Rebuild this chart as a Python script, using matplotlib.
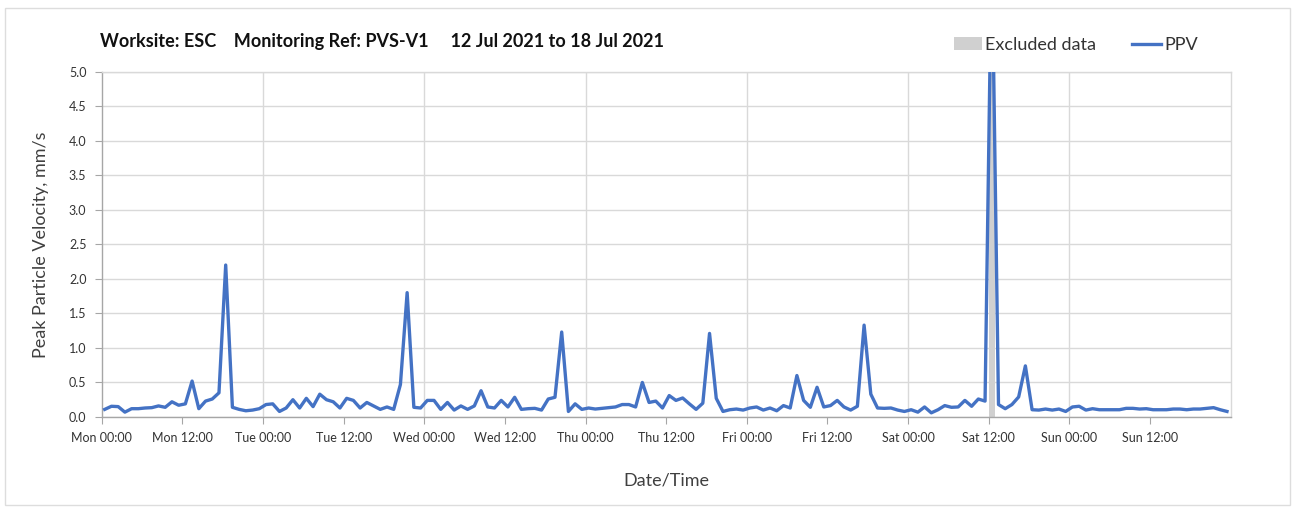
import numpy as np
import pandas as pd
import matplotlib
matplotlib.use("Agg")
import matplotlib.pyplot as plt
import matplotlib.dates as mdates
from matplotlib.patches import Patch, Rectangle
from matplotlib.lines import Line2D

plt.rcParams['font.family'] = ['Lato', 'DejaVu Sans']

# hourly PPV readings, Mon 12 Jul 2021 -> Sun 18 Jul 2021
times = pd.date_range("2021-07-12 00:27", periods=168, freq="h")
ppv = [
    0.11, 0.155, 0.15, 0.07, 0.12, 0.12, 0.13, 0.135, 0.16, 0.14, 0.22, 0.17,
    0.19, 0.52, 0.12, 0.23, 0.26, 0.35, 2.2, 0.14, 0.11, 0.09, 0.10, 0.12,
    0.18, 0.19, 0.08, 0.13, 0.25, 0.13, 0.27, 0.15, 0.33, 0.25, 0.22, 0.13,
    0.27, 0.24, 0.13, 0.21, 0.16, 0.11, 0.145, 0.11, 0.47, 1.8, 0.14, 0.13,
    0.24, 0.24, 0.11, 0.21, 0.10, 0.16, 0.11, 0.16, 0.38, 0.145, 0.13, 0.24,
    0.145, 0.285, 0.11, 0.12, 0.125, 0.10, 0.26, 0.285, 1.23, 0.08, 0.19, 0.11,
    0.13, 0.115, 0.125, 0.135, 0.145, 0.18, 0.18, 0.145, 0.5, 0.21, 0.23, 0.13,
    0.31, 0.24, 0.275, 0.19, 0.11, 0.2, 1.21, 0.27, 0.08, 0.105, 0.115, 0.10,
    0.13, 0.145, 0.10, 0.13, 0.09, 0.165, 0.13, 0.6, 0.24, 0.14, 0.43, 0.145,
    0.165, 0.24, 0.145, 0.10, 0.155, 1.33, 0.33, 0.13, 0.125, 0.13, 0.10, 0.08,
    0.105, 0.07, 0.145, 0.06, 0.105, 0.165, 0.14, 0.145, 0.24, 0.155, 0.26, 0.23,
    6.9, 0.18, 0.12, 0.18, 0.29, 0.74, 0.105, 0.10, 0.115, 0.10, 0.115, 0.08,
    0.145, 0.155, 0.10, 0.12, 0.105, 0.105, 0.105, 0.105, 0.125, 0.125, 0.115, 0.12,
    0.105, 0.105, 0.105, 0.115, 0.115, 0.105, 0.115, 0.115, 0.125, 0.135, 0.105, 0.08,
]
excluded_start = ["2021-07-17 12:00"]
excluded_end = ["2021-07-17 13:00"]

t0 = pd.Timestamp("2021-07-12 00:00")
t1 = pd.Timestamp("2021-07-19 00:00")

blue = "#4472C4"
grey_band = "#D0D0D0"
axis_col = "#A6A6A6"
grid_col = "#D9D9D9"

fig = plt.figure(figsize=(12.99, 5.11), dpi=100)
ax = fig.add_axes([0.0783, 0.184, 0.8691, 0.6757])

for s, e in zip(excluded_start, excluded_end):
    ax.axvspan(pd.Timestamp(s), pd.Timestamp(e), color=grey_band, lw=0, zorder=1)
ax.plot(times, ppv, color=blue, lw=2.4, zorder=3, solid_joinstyle="round")

ax.set_xlim(t0, t1)
ax.set_ylim(0, 5)
ax.set_yticks(np.arange(0, 5.01, 0.5))
ax.yaxis.set_major_formatter(plt.FormatStrFormatter("%.1f"))

# labelled ticks every 12 h, gridlines only at midnight
ax.xaxis.set_major_locator(mdates.HourLocator(byhour=[0, 12]))
ax.xaxis.set_major_formatter(mdates.DateFormatter("%a %H:%M"))
for d in pd.date_range(t0, periods=7, freq="D")[1:]:
    ax.axvline(d, color=grid_col, lw=1, zorder=0)
ax.yaxis.grid(True, color=grid_col, lw=1, zorder=0)
ax.set_axisbelow(True)

for sp in ax.spines.values():
    sp.set_color(axis_col)
    sp.set_linewidth(1)
ax.spines['top'].set_color(grid_col)
ax.spines['right'].set_color(grid_col)
ax.tick_params(axis="both", colors=axis_col, length=5, labelcolor="#333333")
ax.tick_params(axis="x", labelsize=9, pad=6)
ax.tick_params(axis="y", labelsize=9, pad=6)
xt = ax.get_xticks()
ax.set_xticks([x for x in xt if x < mdates.date2num(t1)])

ax.set_ylabel("Peak Particle Velocity, mm/s", fontsize=13, color="#404040", labelpad=14)
ax.set_xlabel("Date/Time", fontsize=13, color="#404040", labelpad=20)

fig.text(0.077, 0.918, "Worksite: ESC    Monitoring Ref: PVS-V1     12 Jul 2021 to 18 Jul 2021",
         fontsize=13, fontweight="bold", color="#111111", va="center")

handles = [Patch(facecolor=grey_band, edgecolor="none"), Line2D([], [], color=blue, lw=2.4)]
fig.legend(handles, ["Excluded data", "PPV"], loc="center", bbox_to_anchor=(0.828, 0.912),
           ncol=2, frameon=False, fontsize=13, handlelength=1.6, handletextpad=0.15,
           columnspacing=2.0, labelcolor="#333333")

fig.add_artist(Rectangle((5 / 1299, 6 / 511), 1285 / 1299, 497 / 511, transform=fig.transFigure,
                         fill=False, edgecolor="#DDDDDD", lw=1))

fig.savefig("out.png", dpi=100)
